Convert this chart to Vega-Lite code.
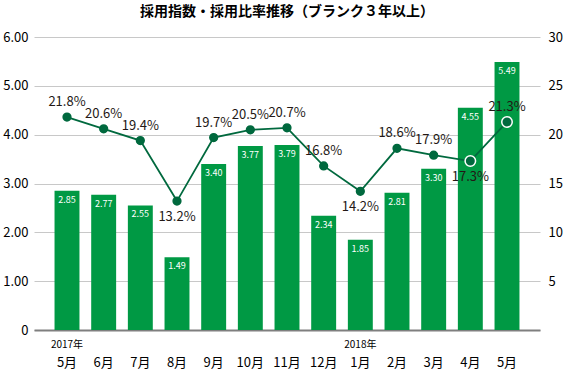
{
  "$schema": "https://vega.github.io/schema/vega-lite/v6.json",
  "width": 567,
  "height": 371,
  "autosize": {"type": "fit", "contains": "padding"},
  "padding": {"left": 2, "right": 4, "top": 5, "bottom": 2},
  "title": {"text": "採用指数・採用比率推移（ブランク３年以上）", "font": "Noto Sans CJK JP", "fontSize": 14, "fontWeight": "bold", "offset": 12, "color": "#000000"},
  "config": {"font": "Noto Sans CJK JP", "view": {"stroke": null}},
  "data": {"values": [
    {"ym": "2017-05", "idx": 2.85, "ratio": 0.218},
    {"ym": "2017-06", "idx": 2.77, "ratio": 0.206},
    {"ym": "2017-07", "idx": 2.55, "ratio": 0.194},
    {"ym": "2017-08", "idx": 1.49, "ratio": 0.132},
    {"ym": "2017-09", "idx": 3.40, "ratio": 0.197},
    {"ym": "2017-10", "idx": 3.77, "ratio": 0.205},
    {"ym": "2017-11", "idx": 3.79, "ratio": 0.207},
    {"ym": "2017-12", "idx": 2.34, "ratio": 0.168},
    {"ym": "2018-01", "idx": 1.85, "ratio": 0.142},
    {"ym": "2018-02", "idx": 2.81, "ratio": 0.186},
    {"ym": "2018-03", "idx": 3.30, "ratio": 0.179},
    {"ym": "2018-04", "idx": 4.55, "ratio": 0.173},
    {"ym": "2018-05", "idx": 5.49, "ratio": 0.213}
  ]},
  "layer": [
    {
      "encoding": {
        "x": {"field": "ym", "type": "ordinal", "sort": null,
          "scale": {"paddingInner": 0.32, "paddingOuter": 0.56},
          "axis": {"title": null, "labelExpr": "toNumber(slice(datum.value,5)) + '月'", "labelAngle": 0, "ticks": false, "domainColor": "#7f7f7f", "domainWidth": 2, "labelFontSize": 13, "labelColor": "#000000", "labelPadding": 26, "grid": false}},
        "y": {"field": "idx", "type": "quantitative",
          "scale": {"domain": [0, 6]},
          "axis": {"title": null, "values": [0, 1, 2, 3, 4, 5, 6], "labelExpr": "datum.value == 0 ? '0' : format(datum.value, '.2f')", "grid": true, "gridColor": "#c8c8c8", "ticks": false, "domain": false, "labelPadding": 6, "labelFontSize": 13, "labelColor": "#000000"}}
      },
      "layer": [
        {"mark": {"type": "bar", "color": "#009944"}},
        {"mark": {"type": "text", "baseline": "top", "dy": 5, "color": "#ffffff", "fontSize": 9},
         "encoding": {"text": {"field": "idx", "type": "quantitative", "format": ".2f"}}}
      ]
    },
    {
      "encoding": {
        "x": {"field": "ym", "type": "ordinal", "sort": null,
          "scale": {"paddingInner": 0.32, "paddingOuter": 0.56},
          "axis": {"orient": "bottom", "title": null, "labelExpr": "datum.value == '2017-05' ? '2017年' : (datum.value == '2018-01' ? '2018年' : '')", "labelAngle": 0, "ticks": false, "domain": false, "labelFontSize": 10, "labelColor": "#000000", "labelPadding": 9, "labelDx": -1, "grid": false}},
        "y": {"field": "ratio", "type": "quantitative",
          "scale": {"domain": [0, 0.3]},
          "axis": {"orient": "right", "title": null, "values": [0, 0.05, 0.1, 0.15, 0.2, 0.25, 0.3], "labelExpr": "datum.value == 0 ? '' : format(datum.value * 100, '.0f')", "grid": false, "ticks": false, "domain": false, "labelPadding": 8, "labelFontSize": 13, "labelColor": "#000000"}}
      },
      "layer": [
        {"mark": {"type": "line", "color": "#00693e", "strokeWidth": 1.8}},
        {"mark": {"type": "circle", "opacity": 1, "strokeWidth": 1.5, "fill": "#00693e"},
         "encoding": {
           "stroke": {"condition": {"test": "datum.ym >= '2018-04'", "value": "#ffffff"}, "value": "#00693e"},
           "size": {"condition": {"test": "datum.ym >= '2018-04'", "value": 110}, "value": 60}
         }},
        {"transform": [{"filter": "datum.ym != '2018-04' && datum.ym != '2017-08' && datum.ym != '2018-01'"}],
         "mark": {"type": "text", "dy": -15, "fontSize": 13, "color": "#231815"},
         "encoding": {"text": {"field": "ratio", "type": "quantitative", "format": ".1%"}}},
        {"transform": [{"filter": "datum.ym == '2018-04' || datum.ym == '2017-08' || datum.ym == '2018-01'"}],
         "mark": {"type": "text", "dy": 16, "fontSize": 13, "color": "#231815"},
         "encoding": {"text": {"field": "ratio", "type": "quantitative", "format": ".1%"}}}
      ]
    }
  ],
  "resolve": {"scale": {"y": "independent"}, "axis": {"x": "independent"}}
}
